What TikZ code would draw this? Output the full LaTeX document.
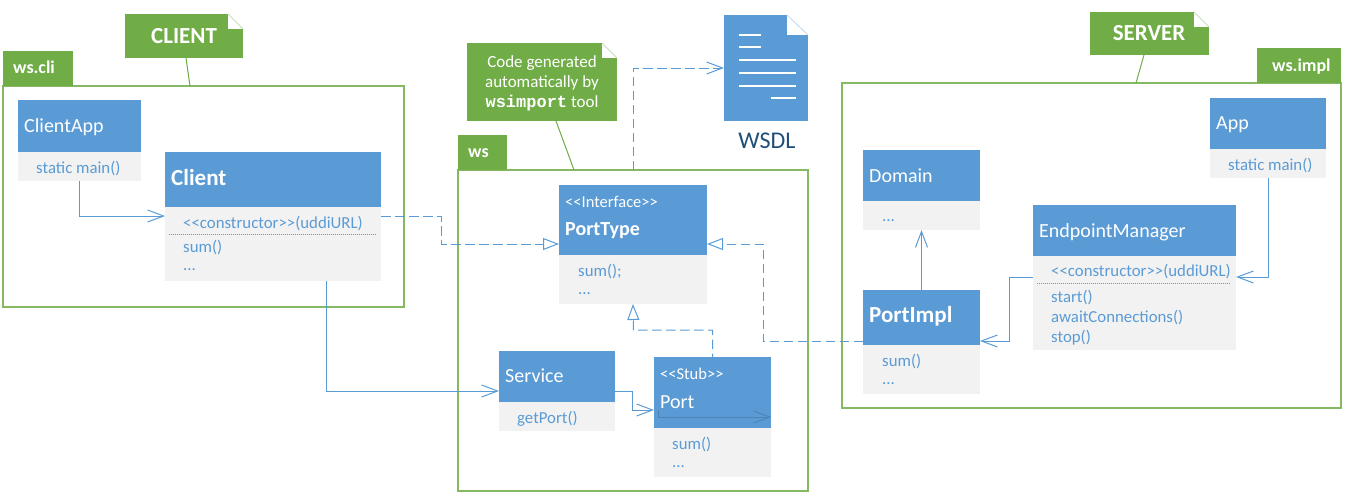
\documentclass[tikz,border=0pt]{standalone}
\usepackage{fontspec}
\setmainfont{Carlito}
\newfontfamily\codefont{Liberation Mono}
\usetikzlibrary{arrows.meta}
\definecolor{umlblue}{HTML}{5B9BD5}
\definecolor{umlgreen}{HTML}{70AD47}
\definecolor{umlgrey}{HTML}{F2F2F2}
\definecolor{umlnavy}{HTML}{1F4E79}
\tikzset{
  box/.style={rectangle,anchor=north west,inner sep=0pt,outer sep=0pt},
  head/.style={box,fill=umlblue},
  body/.style={box,fill=umlgrey},
  package/.style={box,draw=umlgreen!85,line width=1.1pt},
  tab/.style={box,fill=umlgreen},
  note/.style={box,fill=umlgreen},
  txt/.style={anchor=west,inner sep=0pt,text height=14pt,text depth=2pt},
  headtxt/.style={txt,text=white,font=\fontsize{20}{24}\selectfont},
  boldtxt/.style={txt,text=white,font=\fontsize{23}{24}\selectfont\bfseries},
  stereotxt/.style={txt,text=white,font=\fontsize{16.5}{20}\selectfont},
  bodytxt/.style={txt,text=umlblue,font=\fontsize{16.8}{20}\selectfont},
  tabtxt/.style={txt,text=white,font=\fontsize{18}{20}\selectfont\bfseries},
  notetxt/.style={anchor=center,inner sep=0pt,text=white,font=\fontsize{23}{24}\selectfont\bfseries},
  assoc/.style={draw=umlblue,line width=1pt,-{Straight Barb[length=16pt,width=12pt]}},
  depend/.style={assoc,dash pattern=on 9.5pt off 4.5pt},
  realize/.style={draw=umlblue,line width=1pt,dash pattern=on 9.5pt off 4.5pt,-{Triangle[open,length=16pt,width=12pt,fill=white]}},
  anchorline/.style={draw=umlgreen,line width=1pt},
  sepline/.style={draw=umlblue,line width=1pt,dash pattern=on 1pt off 1pt},
  fold/.style={draw=#1!40,line width=.8pt},
  docline/.style={draw=white,line width=2pt}
}
\begin{document}
\begin{tikzpicture}[x=1pt,y=-1pt]
\useasboundingbox (0,0) rectangle (1352,493);
% client side
\node[package,minimum width=401,minimum height=221] (clipkg) at (3,86) {};
\node[tab,minimum width=70,minimum height=35] (clitab) at (3,51) {};
\node[tabtxt] (clitabtxt) at (13,67) {ws.cli};
\node[note,minimum width=118,minimum height=44] (clinote) at (125,14) {};
\fill[white] (clinote.north east) rectangle ++(-15,15);
\draw[fold=umlgreen] (clinote.north east) ++(-15,0) -- ++(15,15);
\node[notetxt] (clinotetxt) at (184,36) {CLIENT};
\coordinate (clinotefoot) at (186,58);
\coordinate (clipkgtop) at (190,86);
\draw[anchorline] (clinotefoot) -- (clipkgtop);
\node[head,minimum width=123,minimum height=52] (clientapp) at (18,100) {};
\node[body,minimum width=123,minimum height=29] (clientappb) at (18,152) {};
\node[headtxt] (clientapptxt) at (24,126) {ClientApp};
\node[bodytxt] (clientappm) at (36,167) {static main()};
\node[head,minimum width=216,minimum height=55] (client) at (165,152) {};
\node[body,minimum width=216,minimum height=74] (clientb) at (165,207) {};
\node[boldtxt] (clienttxt) at (171,179) {Client};
\node[bodytxt] (clientc) at (183,222) {<{}<constructor>{}>(uddiURL)};
\coordinate (clientsepl) at (169,234);
\coordinate (clientsepr) at (376,234);
\draw[sepline] (clientsepl) -- (clientsepr);
\node[bodytxt] (clientm) at (183,246) {sum()};
\node[bodytxt] (clientd) at (183,264) {...};
% generated code
\node[package,minimum width=350,minimum height=321] (wspkg) at (458,170) {};
\node[tab,minimum width=49,minimum height=35] (wstab) at (458,135) {};
\node[tabtxt] (wstabtxt) at (468,151) {ws};
\node[note,minimum width=150,minimum height=78] (gennote) at (467,43) {};
\fill[white] (gennote.north east) rectangle ++(-15,15);
\draw[fold=umlgreen] (gennote.north east) ++(-15,0) -- ++(15,15);
\node[anchor=center,inner sep=0pt,align=center,text=white,font=\fontsize{17}{20}\selectfont] (gennotetxt) at (542,83) {Code generated\\automatically by\\{\codefont\bfseries wsimport} tool};
\coordinate (gennotefoot) at (556,121);
\coordinate (wspkgtop) at (574,170);
\draw[anchorline] (gennotefoot) -- (wspkgtop);
\node[head,minimum width=148,minimum height=70] (porttype) at (559,185) {};
\node[body,minimum width=148,minimum height=49] (porttypeb) at (559,255) {};
\node[stereotxt] (porttypes) at (565,201) {<{}<Interface>{}>};
\node[txt,text=white,font=\fontsize{20}{24}\selectfont\bfseries] (porttypetxt) at (565,229) {PortType};
\node[bodytxt] (porttypem) at (578,270) {sum();};
\node[bodytxt] (porttyped) at (578,288) {...};
\node[head,minimum width=116,minimum height=51] (service) at (499,351) {};
\node[body,minimum width=116,minimum height=29] (serviceb) at (499,402) {};
\node[headtxt] (servicetxt) at (505,376) {Service};
\node[bodytxt] (servicem) at (517,417) {getPort()};
\node[head,minimum width=117,minimum height=71] (port) at (654,357) {};
\node[body,minimum width=117,minimum height=49] (portb) at (654,428) {};
\node[stereotxt] (ports) at (660,373) {<{}<Stub>{}>};
\node[headtxt] (porttxt) at (660,402) {Port};
\node[bodytxt] (portm) at (672,443) {sum()};
\node[bodytxt] (portd) at (672,461) {...};
% wsdl document
\node[head,minimum width=84,minimum height=106] (wsdl) at (724,15) {};
\fill[white] (wsdl.north east) rectangle ++(-21,20);
\draw[fold=umlblue] (wsdl.north east) ++(-21,0) -- ++(21,20);
\draw[docline] (739,35) -- (761,35);
\draw[docline] (739,47) -- (761,47);
\draw[docline] (739,60) -- (796,60);
\draw[docline] (739,73) -- (796,73);
\draw[docline] (739,86) -- (796,86);
\draw[docline] (771,98) -- (796,98);
\node[anchor=center,inner sep=0pt,text=umlnavy,font=\fontsize{24}{28}\selectfont] (wsdltxt) at (767,141) {WSDL};
% server side
\node[package,minimum width=499,minimum height=325] (implpkg) at (842,83) {};
\node[tab,minimum width=84,minimum height=35] (impltab) at (1257,48) {};
\node[tabtxt] (impltabtxt) at (1272,65) {ws.impl};
\node[note,minimum width=119,minimum height=43] (srvnote) at (1090,12) {};
\fill[white] (srvnote.north east) rectangle ++(-15,15);
\draw[fold=umlgreen] (srvnote.north east) ++(-15,0) -- ++(15,15);
\node[notetxt] (srvnotetxt) at (1149,33) {SERVER};
\coordinate (srvnotefoot) at (1144,55);
\coordinate (implpkgtop) at (1136,83);
\draw[anchorline] (srvnotefoot) -- (implpkgtop);
\node[head,minimum width=116,minimum height=51] (app) at (1210,98) {};
\node[body,minimum width=116,minimum height=29] (appb) at (1210,149) {};
\node[headtxt] (apptxt) at (1216,123) {App};
\node[bodytxt] (appm) at (1228,164) {static main()};
\node[head,minimum width=117,minimum height=51] (domain) at (863,150) {};
\node[body,minimum width=117,minimum height=29] (domainb) at (863,201) {};
\node[headtxt] (domaintxt) at (869,176) {Domain};
\node[bodytxt] (domaind) at (882,215) {...};
\node[head,minimum width=117,minimum height=55] (portimpl) at (863,290) {};
\node[body,minimum width=117,minimum height=49] (portimplb) at (863,345) {};
\node[boldtxt] (portimpltxt) at (869,316) {PortImpl};
\node[bodytxt] (portimplm) at (882,360) {sum()};
\node[bodytxt] (portimpld) at (882,378) {...};
\node[head,minimum width=203,minimum height=51] (manager) at (1033,205) {};
\node[body,minimum width=203,minimum height=94] (managerb) at (1033,256) {};
\node[headtxt] (managertxt) at (1039,231) {EndpointManager};
\node[bodytxt] (managerc) at (1051,270) {<{}<constructor>{}>(uddiURL)};
\coordinate (managersepl) at (1037,283);
\coordinate (managersepr) at (1231,283);
\draw[sepline] (managersepl) -- (managersepr);
\node[bodytxt] (managera) at (1051,296) {start()};
\node[bodytxt] (managerw) at (1051,316) {awaitConnections()};
\node[bodytxt] (managero) at (1051,336) {stop()};
% connectors
\coordinate (clientin) at (165,216);
\coordinate (clientout) at (381,216);
\coordinate (clientdown) at (326,281);
\coordinate (servicein) at (499,391);
\coordinate (serviceout) at (615,391);
\coordinate (portin) at (654,410);
\coordinate (typeinl) at (559,244);
\coordinate (typeinr) at (707,244);
\coordinate (implout) at (863,341);
\coordinate (implin) at (980,341);
\coordinate (managerin) at (1236,277);
\coordinate (managerout) at (1033,277);
\coordinate (wsdlout) at (633,170);
\coordinate (wsdlin) at (724,68);
\coordinate (stubline) at (658,410);
\coordinate (stubend) at (771,417);
\draw[assoc] (clientappb.south) |- (clientin);
\draw[assoc] (clientdown) |- (servicein);
\draw[assoc] (serviceout) -- ++(17,0) |- (portin);
\draw[assoc,draw=umlblue!85!black] (stubline) |- (stubend);
\draw[assoc] (appb.south) |- (managerin);
\draw[assoc] (managerout) -- ++(-24,0) |- (implin);
\draw[assoc] (portimpl.north) -- (domainb.south);
\draw[depend] (wsdlout) |- (wsdlin);
\draw[realize] (clientout) -- ++(60,0) |- (typeinl);
\draw[realize] (implout) -- ++(-100,0) |- (typeinr);
\draw[realize,dash phase=6pt] (port.north) |- ++(-79,-27) -- (porttypeb.south);
\end{tikzpicture}
\end{document}
